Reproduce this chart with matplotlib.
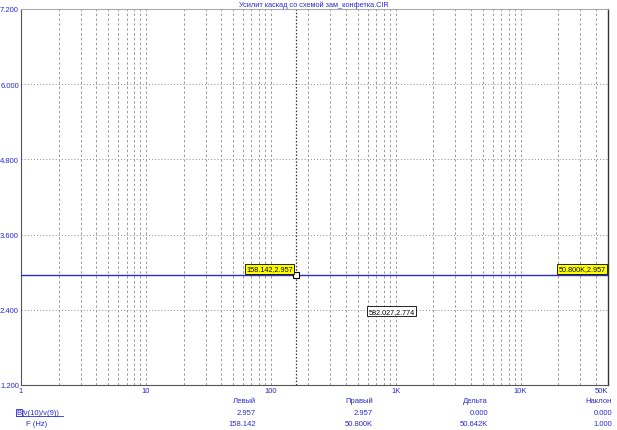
import matplotlib
matplotlib.use("Agg")
import matplotlib.pyplot as plt
from matplotlib.ticker import FixedLocator, NullFormatter

plt.rcParams['font.family'] = ['Liberation Sans', 'DejaVu Sans']

title = "Усилит каскад со схемой зам_конфетка.CIR"
freq = [1, 50000]
gain = [2.957, 2.957]
yticks = [1.2, 2.4, 3.6, 4.8, 6.0, 7.2]
xticks = [1, 10, 100, 1000, 10000, 50000]
xticklabels = ["1", "10", "100", "1K", "10K", "50K"]
cursor_left = (158.142, 2.957)
cursor_right = (50800, 2.957)
float_label = (582.027, 2.774)
col_heads = ["Левый", "Правый", "Дельта", "Наклон"]
row_gain = ["2.957", "2.957", "0.000", "0.000"]
row_freq = ["158.142", "50.800K", "50.642K", "1.000"]

blue = "#2a2ad0"
fs = 5.5
fig = plt.figure(figsize=(6.17, 4.31), dpi=100)
ax = fig.add_axes([21/617, 1-386/431, 587/617, 376/431])
ax.set_xscale('log')
ax.set_xlim(1, 50000)
ax.set_ylim(1.2, 7.2)

# grid
minor = [m * 10**e for e in range(0, 5) for m in range(1, 10) if 1 < m * 10**e < 50000]
for xv in minor:
    ax.axvline(xv, color="#9a9a9a", lw=0.7, ls=(0, (2.5, 2.5)), zorder=1)
for yv in yticks[1:-1]:
    ax.axhline(yv, color="#8a8a8a", lw=0.7, ls=(0, (1, 2.2)), zorder=1)
ax.axvline(cursor_left[0], color="#333333", lw=0.9, ls=(0, (1.2, 1.5)), zorder=2)

ax.plot(freq, gain, color=blue, lw=1.0, zorder=3)
ax.plot([cursor_left[0]], [cursor_left[1]], marker='s', ms=5, mfc='white', mec='black', mew=0.8, zorder=4)

ax.xaxis.set_major_locator(FixedLocator(xticks))
ax.xaxis.set_minor_formatter(NullFormatter())
ax.xaxis.set_minor_locator(FixedLocator([]))
ax.set_xticklabels(xticklabels)
ax.set_yticks(yticks)
ax.set_yticklabels([f"{v:.3f}" for v in yticks])
ax.tick_params(axis='both', length=0, labelsize=fs, labelcolor=blue, pad=1.5)
ax.get_xticklabels()[-1].set_ha('right')

for s in ['left', 'bottom']:
    ax.spines[s].set_color('#555555')
    ax.spines[s].set_linewidth(0.8)
ax.spines['top'].set_color('#aaaaaa')
ax.spines['top'].set_linewidth(0.8)
ax.spines['right'].set_color('#333333')
ax.spines['right'].set_linewidth(1.0)

fig.text(314/617, 1-5/431, title, ha='center', va='center', fontsize=5.3, color=blue)

fl = 5.2
box_y = dict(boxstyle='square,pad=0.2', fc='#ffff00', ec='black', lw=0.6)
ax.annotate(f"{cursor_left[0]:.3f},{cursor_left[1]:.3f}", xy=cursor_left, xytext=(-2, 4.5),
            textcoords='offset points', ha='right', va='center', fontsize=fl, bbox=box_y, zorder=5)
ax.annotate(f"50.800K,{cursor_right[1]:.3f}", xy=(50000, cursor_right[1]), xytext=(-1.5, 4.5),
            textcoords='offset points', ha='right', va='center', fontsize=fl, bbox=box_y, zorder=5)
ax.annotate(f"{float_label[0]:.3f},{float_label[1]:.3f}", xy=float_label, xytext=(1.5, -18),
            textcoords='offset points', ha='left', va='center', fontsize=fl,
            bbox=dict(boxstyle='square,pad=0.2', fc='white', ec='black', lw=0.6), zorder=5)

# bottom readout
col_x = [256, 373, 488, 612]
for cx, h, g, f in zip(col_x, col_heads, row_gain, row_freq):
    fig.text(cx/617, 1-403/431, h, ha='right', va='baseline', fontsize=fs, color=blue)
    fig.text(cx/617, 1-415/431, g, ha='right', va='baseline', fontsize=fs, color=blue)
    fig.text(cx/617, 1-426/431, f, ha='right', va='baseline', fontsize=fs, color=blue)
fig.text(16/617, 1-415/431, "B", ha='left', va='baseline', fontsize=fs, color=blue,
         bbox=dict(boxstyle='square,pad=0.05', fc='white', ec=blue, lw=0.6))
fig.text(22/617, 1-415/431, "(v(10)/v(9))", ha='left', va='baseline', fontsize=fs, color=blue)
fig.add_artist(plt.Line2D([16/617, 63/617], [1-417/431, 1-417/431], color=blue, lw=0.6))
fig.text(26/617, 1-426/431, "F (Hz)", ha='left', va='baseline', fontsize=fs, color=blue)

fig.savefig("out.png", dpi=100)
